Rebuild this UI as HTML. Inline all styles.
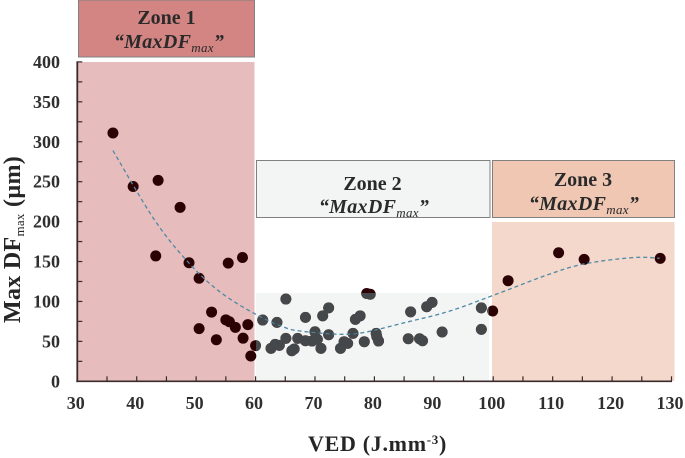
<!DOCTYPE html>
<html lang="en">
<head>
<meta charset="utf-8">
<title>Max DF vs VED</title>
<style>
html,body{margin:0;padding:0;background:#fff;width:685px;height:458px;overflow:hidden}
svg{display:block}
text{font-family:"Liberation Serif",serif;fill:#2f2f2f}
.tick{font-size:18px;font-weight:bold}
.ytitle{font-size:24px;font-weight:bold;letter-spacing:.3px;fill:#262626}
.xtitle{font-size:22px;font-weight:bold;letter-spacing:.7px;fill:#262626}
.zone{font-size:20px;font-weight:bold;text-anchor:middle;fill:#2a2a2a}
.sub{font-size:20px;font-weight:bold;font-style:italic;text-anchor:middle;fill:#2a2a2a;letter-spacing:.3px}
</style>
</head>
<body>
<svg id="chart" xmlns="http://www.w3.org/2000/svg" width="685" height="458" viewBox="0 0 685 458">
  <rect x="78" y="62" width="176.5" height="319" fill="#e6bcbc"/>
  <rect x="256" y="293" width="233" height="88" fill="#f3f5f4"/>
  <rect x="492" y="222" width="182.5" height="159" fill="#f3d8cb"/>

  <rect x="78.5" y="0" width="176" height="57" fill="#d28583" stroke="#808080" stroke-width="1"/>
  <text class="zone" x="166.5" y="24">Zone 1</text>
  <text class="sub" x="169" y="48">“MaxDF<tspan font-size="13" font-weight="normal" dy="4">max</tspan><tspan dy="-4">”</tspan></text>

  <rect x="256.5" y="160.5" width="233.5" height="57" fill="#f3f5f4" stroke="#808080" stroke-width="1"/>
  <text class="zone" x="372.5" y="190">Zone 2</text>
  <text class="sub" x="374" y="213">“MaxDF<tspan font-size="13" font-weight="normal" dy="4">max</tspan><tspan dy="-4">”</tspan></text>

  <rect x="492.5" y="160.5" width="182" height="57" fill="#efc7b3" stroke="#808080" stroke-width="1"/>
  <text class="zone" x="583" y="186">Zone 3</text>
  <text class="sub" x="584" y="210">“MaxDF<tspan font-size="13" font-weight="normal" dy="4">max</tspan><tspan dy="-4">”</tspan></text>

  <g id="points"></g>
  <path id="trend" fill="none" stroke="#4f88a6" stroke-width="1.3" stroke-dasharray="4 3"/>
  <rect x="256" y="293" width="233" height="88" fill="#45484a" style="mix-blend-mode:lighten"/>
  <g id="axes"></g>

  <text class="ytitle" transform="translate(20,323) rotate(-90)">Max DF<tspan font-size="13" font-weight="normal" dy="4">max</tspan><tspan dy="-4"> (µm)</tspan></text>
  <text class="xtitle" x="308" y="451">VED (J.mm<tspan font-size="13" dy="-7">-3</tspan><tspan dy="7">)</tspan></text>
</svg>
<script>
const xValues = [36,39.4,43.6,47.3,43.2,48.8,50.5,55.4,57.8,52.6,50.5,53.4,55,55.6,56.6,58.7,57.9,59.2,60,
  61.2,63.6,65.1,62.6,63.3,64,65.1,66.1,66.5,67.1,68.4,68.4,69.5,70,70.4,71,71.3,72.3,72.3,74.3,74.9,75.5,76.4,76.8,77.6,78.3,78.7,79.3,80.3,80.4,80.7,85.7,86.1,87.6,88.1,88.8,89.7,91.4,98,98,
  99.9,102.5,111,115.3,128.1];
const yValues = [311,244,251.6,217.8,157,148.5,129,148,155,86.7,66,52,77,74.6,67.6,71,54,31.7,44.6,
  76.7,73.8,103,41.3,46.3,45,53.8,38.3,40.4,53.8,50.8,80,50.4,62,52.5,41.3,82,92,58.3,41.3,49.6,47.5,60,77.6,82,49.6,110,109,60,56,50.4,53.3,87,53.3,50.8,93.4,98.8,61.7,92,65,
  88,126,161,152.7,154];
const trendX = [36,43,48.8,54,60,64.7,67.5,73.7,78.1,85.4,92.7,101.2,109,115.3,123.6,128];
const trendY = [289,202,148,112,84,68,63,59,61,74,88,111,133,147,155,154];
const xTickLabels = [30,40,50,60,70,80,90,100,110,120,130];
const yTickLabels = [0,50,100,150,200,250,300,350,400];

const NS = 'http://www.w3.org/2000/svg';
const sx = v => 77.3 + (v - 30) * 5.942;
const sy = v => 381.3 - v * 0.7985;

const pts = document.getElementById('points');
xValues.forEach((v, i) => {
  const c = document.createElementNS(NS, 'circle');
  
  
  c.setAttribute('cx', sx(v));
  c.setAttribute('cy', sy(yValues[i]));
  c.setAttribute('r', 5.5);
  c.setAttribute('fill', '#2c0104');
  pts.appendChild(c);
});

const tp = trendX.map((v, i) => [sx(v), sy(trendY[i])]);
let d = 'M' + tp[0][0] + ' ' + tp[0][1];
for (let i = 0; i < tp.length - 1; i++) {
  const a = tp[Math.max(i - 1, 0)], b = tp[i], c = tp[i + 1], e = tp[Math.min(i + 2, tp.length - 1)];
  d += ' C' + (b[0] + (c[0] - a[0]) / 6) + ' ' + (b[1] + (c[1] - a[1]) / 6) + ' ' +
       (c[0] - (e[0] - b[0]) / 6) + ' ' + (c[1] - (e[1] - b[1]) / 6) + ' ' + c[0] + ' ' + c[1];
}
document.getElementById('trend').setAttribute('d', d);

const axes = document.getElementById('axes');
function line(x1, y1, x2, y2, w, name) {
  const l = document.createElementNS(NS, 'line');
  
  
  l.setAttribute('x1', x1);
  l.setAttribute('y1', y1);
  l.setAttribute('x2', x2);
  l.setAttribute('y2', y2);
  l.setAttribute('stroke', '#3a2b2b');
  l.setAttribute('stroke-width', w);
  axes.appendChild(l);
}
function label(x, y, s, anchor, name) {
  const t = document.createElementNS(NS, 'text');
  
  
  t.setAttribute('class', 'tick');
  t.setAttribute('x', x);
  t.setAttribute('y', y);
  t.setAttribute('text-anchor', anchor);
  t.textContent = s;
  axes.appendChild(t);
}
line(sx(30) - 1, sy(0), sx(130) + 0.5, sy(0), 1.6, 'x-axis-line');
line(sx(30), sy(0) + 0.8, sx(30), sy(400) - 0.5, 1.8, 'y-axis-line');
xTickLabels.forEach(v => {
  line(sx(v), sy(0), sx(v), sy(0) - 5, 1.2, 'x-tick');
  if (v < 130) line(sx(v + 5), sy(0), sx(v + 5), sy(0) - 5, 1.2, 'x-minor-tick');
  label(sx(v) - 1.5, 409, String(v), 'middle', 'x-tick-label');
});
yTickLabels.forEach(v => {
  line(sx(30), sy(v), sx(30) + 5, sy(v), 1.2, 'y-tick');
  if (v < 400) line(sx(30), sy(v + 25), sx(30) + 5, sy(v + 25), 1.2, 'y-minor-tick');
  label(60, sy(v) + 6, String(v), 'end', 'y-tick-label');
});
</script>
</body>
</html>
